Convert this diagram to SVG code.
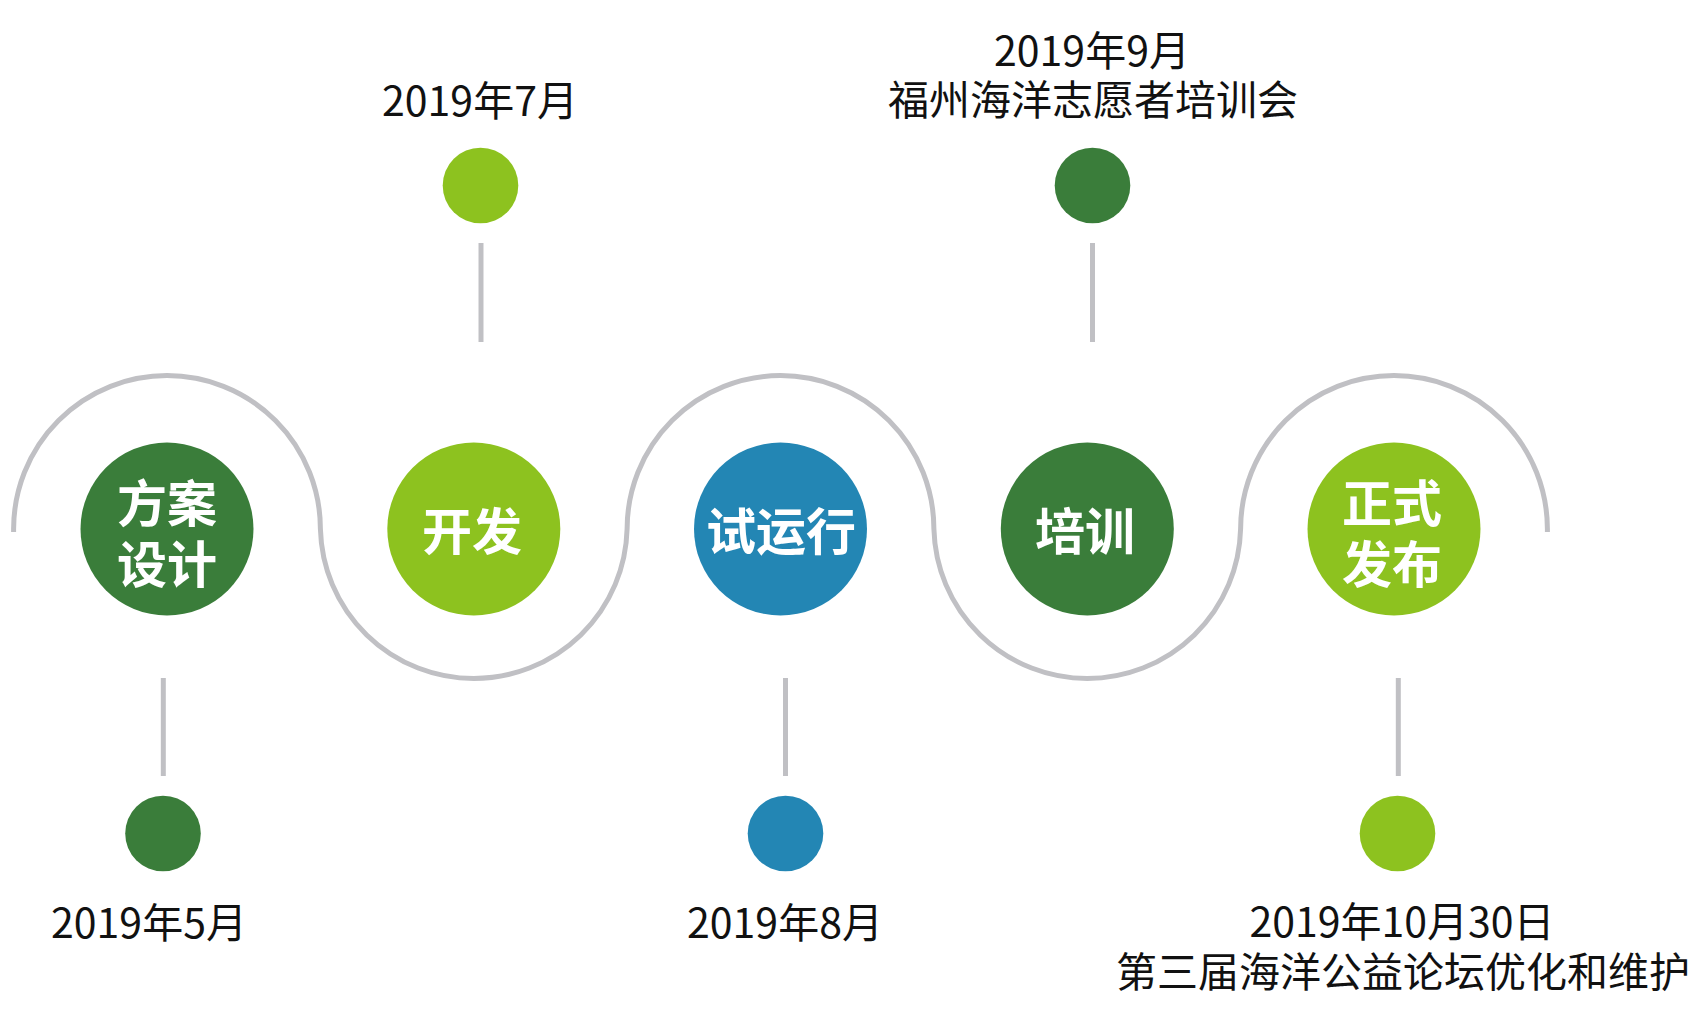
<svg xmlns="http://www.w3.org/2000/svg" width="1701" height="1023" viewBox="0 0 1701 1023">
<style>
.lbl{font-family:"Noto Sans CJK SC","Noto Sans",sans-serif;font-size:41px;fill:#111;text-anchor:middle}
.big{font-family:"Noto Sans CJK SC","Noto Sans",sans-serif;font-size:50px;font-weight:bold;fill:#fff;text-anchor:middle}
.grey{fill:none;stroke:#c0c0c4;stroke-width:5}
.dg{fill:#3a7d3a}
.lg{fill:#8dc21f}
.bl{fill:#2386b4}
</style>
<rect width="1701" height="1023" fill="#fff"/>
<g id="connectors">
<path class="grey" d="M13.6 532 L13.6 529 A153.4 153.4 0 0 1 320.4 529 A153.4 153.4 0 0 0 627.1 529 A153.4 153.4 0 0 1 933.9 529 A153.4 153.4 0 0 0 1240.6 529 A153.4 153.4 0 0 1 1547.4 529 L1547.4 532"/>
<line class="grey" x1="481" y1="243" x2="481" y2="342"/>
<line class="grey" x1="1092.5" y1="243" x2="1092.5" y2="342"/>
<line class="grey" x1="163.3" y1="678" x2="163.3" y2="776"/>
<line class="grey" x1="785.5" y1="678" x2="785.5" y2="776"/>
<line class="grey" x1="1398.3" y1="678" x2="1398.3" y2="776"/>
</g>
<g id="node-fangan">
<circle class="dg" cx="167" cy="529" r="86.5"/>
<text class="big" x="167" y="522">方案</text>
<text class="big" x="167" y="583">设计</text>
</g>
<g id="node-kaifa">
<circle class="lg" cx="473.8" cy="529" r="86.5"/>
<text class="big" x="472" y="550">开发</text>
</g>
<g id="node-shiyunxing">
<circle class="bl" cx="780.5" cy="529" r="86.5"/>
<text class="big" x="781" y="550">试运行</text>
</g>
<g id="node-peixun">
<circle class="dg" cx="1087.3" cy="529" r="86.5"/>
<text class="big" x="1085" y="550">培训</text>
</g>
<g id="node-zhengshi">
<circle class="lg" cx="1394" cy="529" r="86.5"/>
<text class="big" x="1392" y="522">正式</text>
<text class="big" x="1392" y="583">发布</text>
</g>
<g id="milestone-may">
<circle class="dg" cx="163" cy="833.5" r="37.8"/>
<text class="lbl" x="149" y="938">2019年5月</text>
</g>
<g id="milestone-jul">
<circle class="lg" cx="480.5" cy="185.5" r="37.8"/>
<text class="lbl" x="480" y="116">2019年7月</text>
</g>
<g id="milestone-aug">
<circle class="bl" cx="785.5" cy="833.5" r="37.8"/>
<text class="lbl" x="785" y="938">2019年8月</text>
</g>
<g id="milestone-sep">
<circle class="dg" cx="1092.5" cy="185.5" r="37.8"/>
<text class="lbl" x="1092" y="66">2019年9月</text>
<text class="lbl" x="1093" y="115">福州海洋志愿者培训会</text>
</g>
<g id="milestone-oct">
<circle class="lg" cx="1397.5" cy="833.5" r="37.8"/>
<text class="lbl" x="1402" y="937">2019年10月30日</text>
<text class="lbl" x="1403" y="987">第三届海洋公益论坛优化和维护</text>
</g>
</svg>
